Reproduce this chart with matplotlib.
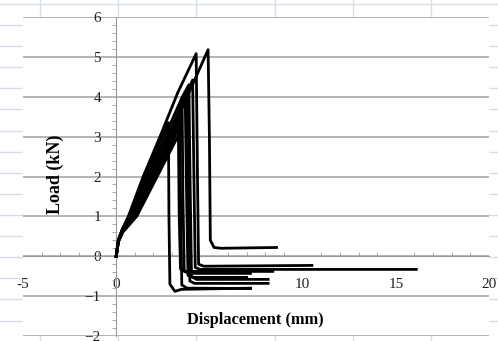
import matplotlib.pyplot as plt
import matplotlib.lines as mlines
import numpy as np

# load-displacement curves, one pair of lists per specimen
x1 = [0, 0.12, 0.35, 0.9, 1.9, 2.9, 3.9, 4.93, 5.0, 5.05, 5.25, 5.6, 8.6]
y1 = [0, 0.38, 0.65, 1.0, 2.0, 3.0, 4.1, 5.18, 3.0, 0.4, 0.22, 0.2, 0.22]

x2 = [0, 0.1, 0.3, 0.65, 1.45, 2.35, 3.3, 4.29, 4.36, 4.42, 4.7, 10.5]
y2 = [0, 0.35, 0.65, 1.0, 2.0, 3.0, 4.1, 5.08, 2.0, -0.2, -0.25, -0.23]

x3 = [0, 0.12, 0.35, 0.8, 1.75, 2.75, 3.7, 4.1, 4.17, 4.24, 4.5, 16.1]
y3 = [0, 0.4, 0.65, 1.0, 2.0, 3.0, 4.0, 4.42, 2.0, -0.28, -0.33, -0.33]

x4 = [0, 0.12, 0.35, 0.75, 1.65, 2.6, 3.55, 3.9, 3.96, 4.04, 4.3, 8.15]
y4 = [0, 0.42, 0.68, 1.0, 2.0, 3.0, 4.0, 4.3, 2.0, -0.5, -0.58, -0.58]

x5 = [0, 0.12, 0.35, 0.85, 1.85, 2.85, 3.8, 3.86, 3.95, 4.2, 8.15]
y5 = [0, 0.4, 0.65, 1.0, 2.0, 3.0, 4.17, 2.0, -0.62, -0.68, -0.68]

x6 = [0, 0.12, 0.35, 1.0, 2.05, 3.1, 3.7, 3.76, 3.85, 4.1, 7.0]
y6 = [0, 0.38, 0.62, 1.0, 2.0, 3.0, 4.05, 2.0, -0.48, -0.53, -0.53]

x7 = [0, 0.12, 0.35, 1.1, 2.2, 3.3, 3.54, 3.58, 3.65, 3.9, 7.2]
y7 = [0, 0.36, 0.6, 1.0, 2.0, 3.0, 3.67, 1.5, -0.38, -0.43, -0.43]

x8 = [0, 0.12, 0.35, 0.95, 2.0, 3.0, 3.33, 3.38, 3.45, 3.7, 8.4]
y8 = [0, 0.4, 0.65, 1.0, 2.0, 3.0, 3.42, 1.0, -0.32, -0.38, -0.38]

x9 = [0, 0.12, 0.35, 1.05, 2.1, 3.15, 3.42, 3.46, 3.52, 3.8, 7.2]
y9 = [0, 0.38, 0.62, 1.0, 2.0, 3.0, 3.5, 1.0, -0.72, -0.8, -0.81]

x10 = [0, 0.12, 0.35, 0.7, 1.55, 2.45, 2.8, 2.83, 2.88, 3.15, 3.5, 7.2]
y10 = [0, 0.42, 0.7, 1.0, 2.0, 3.0, 3.35, 1.0, -0.7, -0.88, -0.83, -0.8]

curves = [(x1, y1), (x2, y2), (x3, y3), (x4, y4), (x5, y5),
          (x6, y6), (x7, y7), (x8, y8), (x9, y9), (x10, y10)]

xticks = [-5, 0, 5, 10, 15, 20]
xticklabels = ['-5', '0', '', '10', '15', '20']
yticks = [-2, -1, 0, 1, 2, 3, 4, 5, 6]

plt.rcParams['font.family'] = 'Liberation Serif'

fig = plt.figure(figsize=(4.98, 3.41), dpi=100)

# spreadsheet cell lines behind the chart
sheet = '#d5deea'
for px in [40, 118, 196, 275, 353, 431]:
    fig.add_artist(mlines.Line2D([px / 498, px / 498], [0, 1], color=sheet, lw=1, zorder=0))
for py in np.arange(4, 341, 21.1):
    fig.add_artist(mlines.Line2D([0, 1], [1 - py / 341, 1 - py / 341], color=sheet, lw=1, zorder=0))

ax = fig.add_axes([23 / 498, 5 / 341, 466 / 498, 319 / 341])
ax.set_facecolor('white')
ax.patch.set_zorder(0.5)

for cx, cy in curves:
    ax.plot(cx, cy, color='black', lw=2.0, zorder=3, solid_joinstyle='round')

ax.set_xlim(-5, 20)
ax.set_ylim(-2, 6)

for y in yticks:
    ax.axhline(y, color='#b4b4b4', lw=1.4, zorder=1)

for s in ['top', 'right']:
    ax.spines[s].set_visible(False)
ax.spines['left'].set_position(('data', 0))
ax.spines['bottom'].set_position(('data', 0))
ax.spines['left'].set_color('#9a9a9a')
ax.spines['bottom'].set_color('#9a9a9a')

ax.set_xticks(xticks)
ax.set_xticklabels(xticklabels)
ax.set_xticks(np.arange(-5, 21, 1), minor=True)
ax.set_yticks(yticks)
ax.set_yticks(np.arange(-2, 6.01, 0.2), minor=True)

ax.tick_params(axis='x', which='both', direction='in', color='#9a9a9a',
               labelsize=11, pad=16, labelcolor='#222222')
ax.tick_params(axis='x', which='major', length=0)
ax.tick_params(axis='x', which='minor', length=3)
ax.tick_params(axis='y', which='both', direction='out', color='#9a9a9a',
               labelsize=11, pad=11, labelcolor='#222222')
ax.tick_params(axis='y', which='major', length=0)
ax.tick_params(axis='y', which='minor', length=3)

fig.text(255 / 498, 1 - 320 / 341, 'Displacement (mm)', ha='center', va='center',
         fontsize=11.8, fontweight='bold')
fig.text(55 / 498, 1 - 174 / 341, 'Load (kN)', ha='center', va='center',
         rotation=90, fontsize=13, fontweight='bold')

fig.savefig('out.png', dpi=100)
